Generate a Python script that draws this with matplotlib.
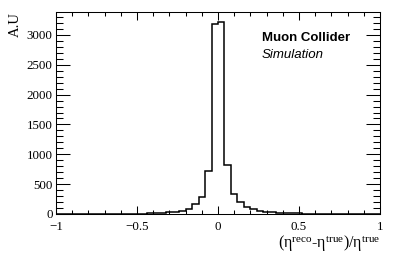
import numpy as np
import matplotlib
matplotlib.use("Agg")
import matplotlib.pyplot as plt
from matplotlib.ticker import MultipleLocator

# ---- histogram content: 50 bins from -1 to 1 ----
bin_edges = np.linspace(-1.0, 1.0, 51)
counts = [0, 0, 0, 1, 1, 1, 1, 2, 2, 3,
          4, 5, 6, 8, 11, 15, 20, 28, 38, 55,
          84, 168, 280, 720, 3184, 3223, 820, 330, 206, 122,
          84, 55, 38, 28, 22, 17, 13, 10, 8, 6,
          5, 4, 3, 3, 2, 2, 1, 1, 1, 1]
xlabel = "(η$^{\\mathrm{reco}}$-η$^{\\mathrm{true}}$)/η$^{\\mathrm{true}}$"
ylabel = "A.U"

plt.rcParams.update({
    "font.family": "Liberation Serif",
    "mathtext.fontset": "custom",
    "mathtext.rm": "Liberation Serif",
    "mathtext.it": "Liberation Serif:italic",
    "mathtext.bf": "Liberation Serif:bold",
    "axes.linewidth": 0.75,
})

fig = plt.figure(figsize=(3.99, 2.56), dpi=100)
ax = fig.add_axes([56/399, 42/256, 324/399, 202/256])

ax.stairs(counts, bin_edges, color="black", lw=1.1)

ax.set_xlim(-1, 1)
ax.set_ylim(0, 1.05*max(counts))

ax.xaxis.set_major_locator(MultipleLocator(0.5))
ax.xaxis.set_minor_locator(MultipleLocator(0.1))
ax.yaxis.set_major_locator(MultipleLocator(500))
ax.yaxis.set_minor_locator(MultipleLocator(100))
ax.tick_params(which="both", direction="in", top=True, right=True,
               labelsize=9.4, width=0.75)
ax.tick_params(axis="x", which="major", length=6, pad=5)
ax.tick_params(axis="x", which="minor", length=3)
ax.tick_params(axis="y", which="major", length=10, pad=2.5)
ax.tick_params(axis="y", which="minor", length=5)
ax.set_xticks([-1, -0.5, 0, 0.5, 1])
ax.set_xticklabels(["\u22121", "\u22120.5", "0", "0.5", "1"])

ax.set_xlabel(xlabel, fontsize=11.5, loc="right", labelpad=0)
ax.set_ylabel(ylabel, fontsize=10.5, loc="top", labelpad=3.5)

ax.text(0.635, 0.855, "Muon Collider", transform=ax.transAxes,
        fontsize=9.5, fontweight="bold", family="Liberation Sans")
ax.text(0.635, 0.77, "Simulation", transform=ax.transAxes,
        fontsize=9.5, style="italic", family="Liberation Sans")

fig.savefig("out.png", dpi=100)
